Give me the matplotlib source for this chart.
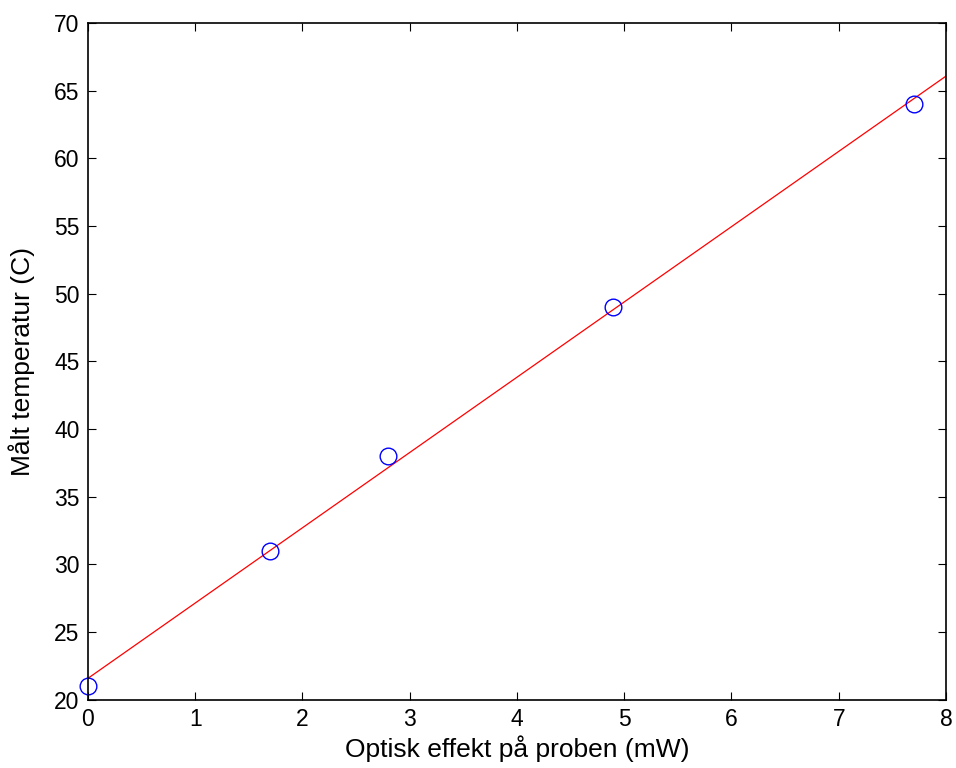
import matplotlib.pyplot as plt
import numpy as np

plt.rcParams['font.family'] = ['Liberation Sans', 'DejaVu Sans']

# Measured points: optical power on the probe vs. measured temperature
effekt = np.array([0.0, 1.7, 2.8, 4.9, 7.7])
temperatur = np.array([21.0, 31.0, 38.0, 49.0, 64.0])

# Least-squares straight line through the points
k, m = np.polyfit(effekt, temperatur, 1)
x_fit = np.linspace(0, 8, 200)
y_fit = k * x_fit + m

fig = plt.figure(figsize=(9.56, 7.68), dpi=100)
ax = fig.add_axes([0.092, 0.089, 0.8975, 0.881])

ax.plot(x_fit, y_fit, color='red', linewidth=0.9)
ax.plot(effekt, temperatur, 'o', markersize=12, markerfacecolor='none',
        markeredgecolor='blue', markeredgewidth=1.0, clip_on=False)

ax.set_xlim(0, 8)
ax.set_ylim(20, 70)
ax.set_xticks(np.arange(0, 9, 1))
ax.set_yticks(np.arange(20, 75, 5))
ax.tick_params(direction='in', top=True, right=True, length=6, width=0.8,
               labelsize=16.5, pad=6)
for s in ax.spines.values():
    s.set_linewidth(1.2)

ax.set_xlabel('Optisk effekt på proben (mW)', fontsize=19, labelpad=3)
ax.set_ylabel('Målt temperatur (C)', fontsize=19, labelpad=14)

fig.savefig('out.png', dpi=100)
